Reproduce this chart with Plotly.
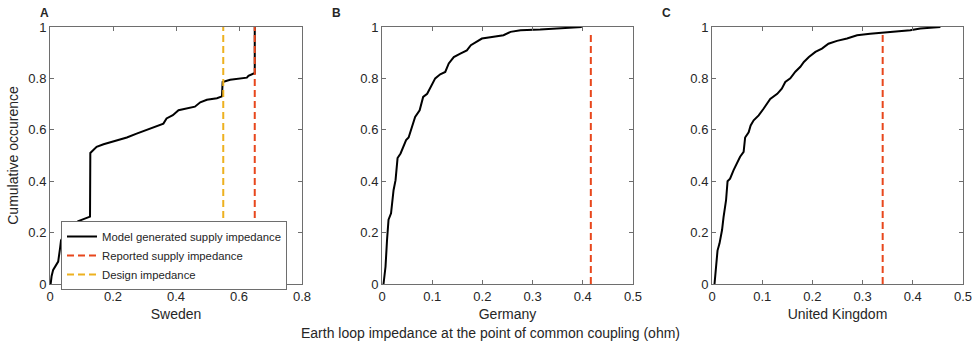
import plotly.graph_objects as go

# ---- data ----
sweden_x = [0.002, 0.005, 0.01, 0.016, 0.021, 0.026, 0.032, 0.035, 0.05, 0.07, 0.09, 0.1, 0.12, 0.127, 0.128,
            0.148, 0.17, 0.2, 0.244, 0.275, 0.307, 0.339, 0.36, 0.37, 0.39, 0.408, 0.434, 0.46, 0.477,
            0.498, 0.53, 0.546, 0.548, 0.572, 0.625, 0.63, 0.648, 0.65, 0.65]
sweden_y = [0.0, 0.03, 0.055, 0.068, 0.08, 0.087, 0.14, 0.17, 0.2, 0.23, 0.245, 0.249, 0.258, 0.262, 0.51,
            0.534, 0.544, 0.554, 0.57, 0.585, 0.6, 0.614, 0.624, 0.644, 0.657, 0.676, 0.682, 0.69, 0.707,
            0.717, 0.723, 0.73, 0.786, 0.795, 0.803, 0.81, 0.82, 0.82, 1.0]

germany_x = [0.003, 0.007, 0.01, 0.013, 0.018, 0.023, 0.027, 0.031, 0.037, 0.043, 0.048, 0.053, 0.06, 0.066,
             0.075, 0.082, 0.09, 0.1, 0.106, 0.116, 0.126, 0.133, 0.143, 0.156, 0.169, 0.177, 0.189, 0.199,
             0.219, 0.242, 0.256, 0.276, 0.315, 0.362, 0.398]
germany_y = [0.0, 0.067, 0.17, 0.25, 0.275, 0.365, 0.404, 0.49, 0.508, 0.534, 0.56, 0.57, 0.611, 0.65,
             0.676, 0.728, 0.74, 0.78, 0.8, 0.816, 0.825, 0.858, 0.883, 0.896, 0.909, 0.929, 0.942, 0.955,
             0.961, 0.968, 0.981, 0.987, 0.99, 0.994, 1.0]

uk_x = [0.005, 0.007, 0.01, 0.011, 0.015, 0.02, 0.023, 0.028, 0.031, 0.036, 0.043, 0.05, 0.056, 0.063, 0.066,
        0.073, 0.077, 0.083, 0.093, 0.103, 0.11, 0.116, 0.13, 0.139, 0.146, 0.156, 0.166, 0.176, 0.183,
        0.193, 0.206, 0.219, 0.232, 0.249, 0.269, 0.289, 0.315, 0.34, 0.369, 0.395, 0.415, 0.435, 0.455]
uk_y = [0.0, 0.041, 0.08, 0.13, 0.158, 0.21, 0.26, 0.326, 0.4, 0.41, 0.443, 0.469, 0.495, 0.514, 0.57,
        0.59, 0.617, 0.637, 0.656, 0.683, 0.702, 0.72, 0.74, 0.76, 0.786, 0.8, 0.826, 0.845, 0.864,
        0.883, 0.903, 0.916, 0.935, 0.946, 0.955, 0.968, 0.974, 0.978, 0.983, 0.987, 0.994, 0.997, 1.0]

reported = {"Sweden": 0.65, "Germany": 0.416, "United Kingdom": 0.34}
reported_top = {"Sweden": 1.0, "Germany": 0.978, "United Kingdom": 0.978}
design_sweden = 0.55

countries = ["Sweden", "Germany", "United Kingdom"]
panel_letters = ["A", "B", "C"]
xranges = [[0, 0.8], [0, 0.5], [0, 0.5]]
xdticks = [0.2, 0.1, 0.1]

BLACK = "#000000"
RED = "#E8471C"
ORANGE = "#EDB120"
FONT = "Liberation Sans, Arial, sans-serif"
TXT = "#262626"

fig = go.Figure()

data = {"Sweden": (sweden_x, sweden_y), "Germany": (germany_x, germany_y),
        "United Kingdom": (uk_x, uk_y)}

for i, c in enumerate(countries):
    xa = "x" if i == 0 else f"x{i+1}"
    ya = "y" if i == 0 else f"y{i+1}"
    xs, ys = data[c]
    fig.add_trace(go.Scatter(x=xs, y=ys, mode="lines", xaxis=xa, yaxis=ya,
                             line=dict(color=BLACK, width=2),
                             name="Model generated supply impedance", showlegend=(i == 0)))
    fig.add_trace(go.Scatter(x=[reported[c], reported[c]], y=[0, reported_top[c]], mode="lines",
                             xaxis=xa, yaxis=ya,
                             line=dict(color=RED, width=2, dash="7px,4px"),
                             name="Reported supply impedance", showlegend=(i == 0)))
    if i == 0:
        fig.add_trace(go.Scatter(x=[design_sweden, design_sweden], y=[0, 1], mode="lines",
                                 xaxis=xa, yaxis=ya,
                                 line=dict(color=ORANGE, width=2, dash="7px,4px"),
                                 name="Design impedance", showlegend=True))

x_domains = [[50/976, 302/976], [382/976, 633/976], [712/976, 963/976]]
y_domain = [1 - 284/344, 1 - 27/344]

axis_common = dict(showline=True, linecolor="#6e6e6e", linewidth=1, mirror="allticks",
                   ticks="inside", ticklen=4, tickcolor="#6e6e6e", showgrid=False, zeroline=False,
                   automargin=False,
                   tickfont=dict(family=FONT, size=13, color=TXT))

layout = dict(width=976, height=344, margin=dict(l=0, r=0, t=0, b=0, autoexpand=False),
              paper_bgcolor="white", plot_bgcolor="white",
              font=dict(family=FONT, color=TXT),
              legend=dict(x=61/976, y=1 - 221/344, xanchor="left", yanchor="top",
                          bgcolor="white", bordercolor="#6e6e6e", borderwidth=1,
                          font=dict(family=FONT, size=11.3, color=TXT),
                          tracegroupgap=0, itemwidth=30))

for i, c in enumerate(countries):
    xk = "xaxis" if i == 0 else f"xaxis{i+1}"
    yk = "yaxis" if i == 0 else f"yaxis{i+1}"
    ya = "y" if i == 0 else f"y{i+1}"
    xa = "x" if i == 0 else f"x{i+1}"
    layout[xk] = dict(axis_common, domain=x_domains[i], range=xranges[i], dtick=xdticks[i],
                      tick0=0, anchor=ya,
                      title=dict(text=c, font=dict(family=FONT, size=14, color=TXT), standoff=6))
    layout[yk] = dict(axis_common, domain=y_domain, range=[0, 1], dtick=0.2, tick0=0, anchor=xa)

layout["yaxis"]["title"] = dict(text="Cumulative occurence", font=dict(family=FONT, size=14, color=TXT),
                                standoff=6)

fig.update_layout(**layout)

letter_x = [44, 336, 666]
for L, px in zip(panel_letters, letter_x):
    fig.add_annotation(text=f"<b>{L}</b>", x=px/976, y=1 - 13/344, xref="paper", yref="paper",
                       showarrow=False, xanchor="center", yanchor="middle",
                       font=dict(family=FONT, size=12, color=TXT))

fig.add_annotation(text="Earth loop impedance at the point of common coupling (ohm)",
                   x=490/976, y=1 - 333/344, xref="paper", yref="paper", showarrow=False,
                   xanchor="center", yanchor="middle", font=dict(family=FONT, size=14, color=TXT))

fig.write_html("out.html", config={"displayModeBar": False},
               post_script="document.body.style.margin='0';document.body.style.overflow='hidden';")
